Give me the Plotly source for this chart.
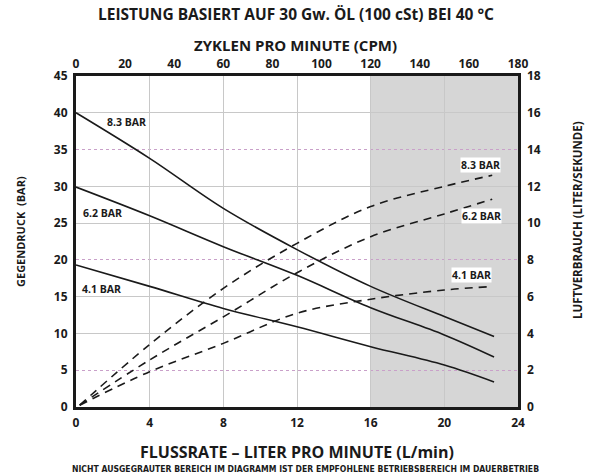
import plotly.graph_objects as go

# Back pressure curves (left axis, BAR) vs flow (L/min)
flow_83 = [0, 4, 8, 12, 16, 20, 22.7]
press_83 = [40, 33.8, 27.0, 21.4, 16.4, 12.3, 9.6]
flow_62 = [0, 4, 8, 12, 16, 20, 22.7]
press_62 = [29.9, 26.0, 21.8, 17.9, 13.5, 9.8, 6.8]
flow_41 = [0, 4, 8, 12, 16, 20, 22.7]
press_41 = [19.3, 16.4, 13.4, 10.9, 8.2, 5.7, 3.4]

# Air consumption curves (right axis, L/s) vs flow (L/min)
air_flow_83 = [0.2, 4, 8, 12, 16, 20, 22.6]
air_83 = [0.1, 3.4, 6.45, 8.9, 10.9, 12.0, 12.6]
air_flow_62 = [0.2, 4, 8, 12, 16, 20, 22.6]
air_62 = [0.1, 2.56, 4.9, 7.3, 9.26, 10.5, 11.3]
air_flow_41 = [0.2, 4, 8, 12, 16, 20, 22.4]
air_41 = [0.1, 1.92, 3.46, 5.1, 5.86, 6.36, 6.54]

x_ticks = [0, 4, 8, 12, 16, 20, 24]
cpm_ticks = [0, 20, 40, 60, 80, 100, 120, 140, 160, 180]
y_ticks = [0, 5, 10, 15, 20, 25, 30, 35, 40, 45]
y2_ticks = [0, 2, 4, 6, 8, 10, 12, 14, 16, 18]
y_solid_grid = [10, 15, 25, 30, 40]
y2_dotted_grid = [2, 8, 14]

gray_start = 16
gray_end = 24

FONT = "Open Sans"
BLACK = "#1a1a1a"

fig = go.Figure()

solid = dict(color=BLACK, width=1.6)
dash = dict(color=BLACK, width=1.6, dash="8px,6px")

fig.add_trace(go.Scatter(x=flow_83, y=press_83, mode="lines", line=solid, line_shape="spline", showlegend=False))
fig.add_trace(go.Scatter(x=flow_62, y=press_62, mode="lines", line=solid, line_shape="spline", showlegend=False))
fig.add_trace(go.Scatter(x=flow_41, y=press_41, mode="lines", line=solid, line_shape="spline", showlegend=False))

fig.add_trace(go.Scatter(x=air_flow_83, y=air_83, mode="lines", line=dash, line_shape="spline", yaxis="y2", showlegend=False))
fig.add_trace(go.Scatter(x=air_flow_62, y=air_62, mode="lines", line=dash, line_shape="spline", yaxis="y2", showlegend=False))
fig.add_trace(go.Scatter(x=air_flow_41, y=air_41, mode="lines", line=dash, line_shape="spline", yaxis="y2", showlegend=False))

# invisible trace to activate top axis
fig.add_trace(go.Scatter(x=[cpm_ticks[0], cpm_ticks[-1]], y=[0, 0], xaxis="x2", mode="lines",
                         line=dict(width=0), hoverinfo="skip", showlegend=False))

fig.add_shape(type="rect", xref="x", yref="paper", x0=gray_start, x1=gray_end, y0=0, y1=1,
              fillcolor="rgba(0,0,0,0.16)", line=dict(width=0), layer="below")

tickfont = dict(family=FONT, size=12, color=BLACK, weight="bold")

fig.update_layout(
    width=590, height=476,
    margin=dict(l=76, r=72, t=76, b=69),
    paper_bgcolor="white", plot_bgcolor="white",
    font=dict(family=FONT, color=BLACK),
    xaxis=dict(range=[0, 24], tickvals=x_ticks, showgrid=True, gridcolor="#c8c8c8", gridwidth=1,
               showline=True, linecolor=BLACK, linewidth=3, mirror=True, ticks="", zeroline=False,
               tickfont=tickfont, ticklabelstandoff=3),
    xaxis2=dict(range=[0, 180], tickvals=cpm_ticks, overlaying="x", side="top", anchor="y",
                showgrid=False, showline=False, ticks="", zeroline=False, tickfont=tickfont,
                ticklabelstandoff=5),
    yaxis=dict(range=[0, 45], tickvals=y_ticks, showgrid=False,
               minor=dict(tickvals=y_solid_grid, showgrid=True, gridcolor="#c8c8c8", gridwidth=1, ticks=""),
               showline=True, linecolor=BLACK, linewidth=3, mirror=True, ticks="", zeroline=False,
               tickfont=tickfont, ticklabelstandoff=3),
    yaxis2=dict(range=[0, 18], tickvals=y2_ticks, overlaying="y", side="right", anchor="x",
                showgrid=False,
                minor=dict(tickvals=y2_dotted_grid, showgrid=True, gridcolor="#c9a0c9", gridwidth=1,
                           griddash="dot", ticks=""),
                showline=False, ticks="", zeroline=False, tickfont=tickfont, ticklabelstandoff=8),
)

def ann(text, x, y, size, xref="paper", yref="paper", angle=0, bg=None, family=FONT):
    fig.add_annotation(text=text, x=x, y=y, xref=xref, yref=yref, showarrow=False,
                       textangle=angle, xanchor="center", yanchor="middle",
                       font=dict(family=family, size=size, color=BLACK, weight="bold"),
                       bgcolor=bg, borderpad=0)

def px_to_paper_y(py):
    return (407 - py) / 331

def px_to_paper_x(px):
    return (px - 76) / 442

ann("LEISTUNG BASIERT AUF 30 Gw. ÖL (100 cSt) BEI 40 °C", px_to_paper_x(296), px_to_paper_y(14), 15.5)
ann("ZYKLEN PRO MINUTE (CPM)", px_to_paper_x(295), px_to_paper_y(45), 15)
ann("FLUSSRATE – LITER PRO MINUTE (L/min)", px_to_paper_x(297), px_to_paper_y(452), 16)
ann("NICHT AUSGEGRAUTER BEREICH IM DIAGRAMM IST DER EMPFOHLENE BETRIEBSBEREICH IM DAUERBETRIEB",
    px_to_paper_x(305), px_to_paper_y(469), 8.6, family="DejaVu Sans Condensed, Liberation Sans")
ann("GEGENDRUCK  (BAR)", px_to_paper_x(20), px_to_paper_y(232), 11, angle=-90)
ann("LUFTVERBRAUCH (LITER/SEKUNDE)", px_to_paper_x(577), px_to_paper_y(220), 11.5, angle=-90)

# curve labels
ann("8.3 BAR", 2.73, 38.8, 10.5, xref="x", yref="y")
ann("6.2 BAR", 1.45, 26.4, 10.5, xref="x", yref="y")
ann("4.1 BAR", 1.4, 16.0, 10.5, xref="x", yref="y")
ann("8.3 BAR", 21.95, 32.9, 10.5, xref="x", yref="y", bg="white")
ann("6.2 BAR", 22.0, 26.0, 10.5, xref="x", yref="y", bg="white")
ann("4.1 BAR", 21.5, 17.9, 10.5, xref="x", yref="y", bg="white")

fig.write_html("out.html", config={"displayModeBar": False},
               post_script="document.body.style.margin='0';")
